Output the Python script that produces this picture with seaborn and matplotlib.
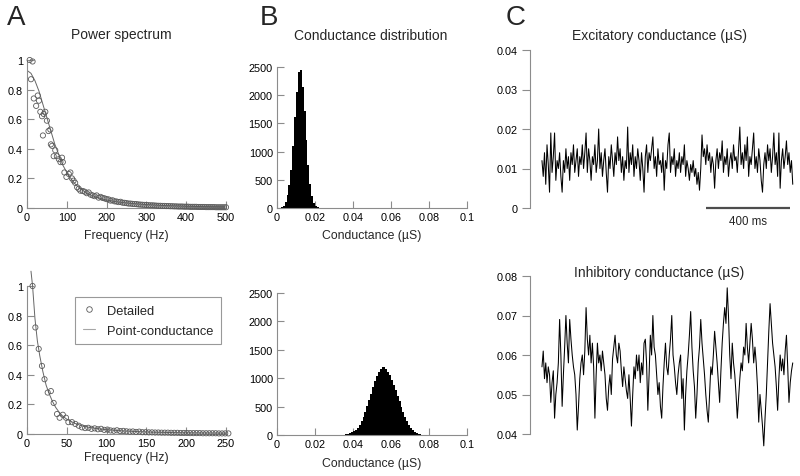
import numpy as np
import matplotlib
matplotlib.use("Agg")
import matplotlib.pyplot as plt
import seaborn as sns
from matplotlib.lines import Line2D
from matplotlib.ticker import FormatStrFormatter

# ---- data ----
# power spectrum, top (excitatory), "Detailed" model points
spec_e_freq = [6.7, 10, 14, 17, 23, 27, 30, 33.5, 37.7, 40, 42, 46, 50, 54, 58.6, 60, 63, 67,
               71, 75, 80, 84, 88, 90, 94, 99, 105, 109, 113, 117, 121, 126, 130, 134,
               140, 145, 150, 155, 160, 165, 170, 175, 180, 185, 190, 195, 200, 205, 210, 215,
               220, 225, 230, 235, 240, 245, 250, 255, 260, 265, 270, 275, 280, 285, 290, 295,
               300, 305, 310, 315, 320, 325, 330, 335, 340, 345, 350, 355, 360, 365, 370, 375,
               380, 385, 390, 395, 400, 405, 410, 415, 420, 425, 430, 435, 440, 445, 450, 455,
               460, 465, 470, 475, 480, 485, 490, 495, 500]
spec_e_pow = [1.0, 0.87, 0.99, 0.74, 0.69, 0.76, 0.725, 0.65, 0.62, 0.49, 0.635, 0.65, 0.59, 0.52,
              0.53, 0.43, 0.42, 0.35, 0.39, 0.35, 0.33, 0.31, 0.34, 0.31, 0.24, 0.21, 0.23, 0.24,
              0.2, 0.185, 0.17, 0.14, 0.13, 0.117,
              0.115, 0.11, 0.10, 0.105, 0.09, 0.085, 0.08, 0.085, 0.07, 0.075, 0.068, 0.065, 0.06,
              0.058, 0.05, 0.052, 0.045, 0.044, 0.04, 0.042, 0.036, 0.035, 0.033, 0.03, 0.03,
              0.028, 0.027, 0.026, 0.024, 0.023, 0.022, 0.021, 0.02, 0.019, 0.018, 0.018, 0.017,
              0.016, 0.015, 0.015, 0.014, 0.014, 0.013, 0.013, 0.012, 0.012, 0.011, 0.011, 0.01,
              0.01, 0.01, 0.009, 0.009, 0.009, 0.008, 0.008, 0.008, 0.008, 0.007, 0.007, 0.007,
              0.007, 0.006, 0.006, 0.006, 0.006, 0.006, 0.005, 0.005, 0.005, 0.005, 0.005, 0.005]
# "Point-conductance" curve, top
fit_e_freq = [0, 10, 20, 30, 40, 50, 60, 70, 80, 90, 100, 110, 120, 130, 140, 150, 160, 170,
              180, 190, 200, 225, 250, 275, 300, 350, 400, 450, 500]
fit_e_pow = [0.93, 0.91, 0.86, 0.79, 0.70, 0.61, 0.52, 0.43, 0.36, 0.29, 0.24, 0.20, 0.165,
             0.14, 0.12, 0.10, 0.088, 0.077, 0.068, 0.06, 0.054, 0.042, 0.034, 0.028, 0.023,
             0.016, 0.012, 0.009, 0.007]

# power spectrum, bottom (inhibitory)
spec_i_freq = [7, 10.5, 14.7, 18.8, 22, 26, 30, 33.5, 37.7, 41, 45, 49, 52, 56.5, 60.7, 65, 69, 73,
               77, 81, 85, 89, 93, 97, 101, 105, 109, 113, 117, 121, 125, 129, 133, 137, 141,
               145, 149, 153, 157, 161, 165, 169, 173, 177, 181, 185, 189, 193, 197, 201, 205,
               209, 213, 217, 221, 225, 229, 233, 237, 241, 245, 249, 253]
spec_i_pow = [1.0, 0.72, 0.575, 0.46, 0.37, 0.28, 0.29, 0.21, 0.135, 0.11, 0.13, 0.11, 0.08, 0.08,
              0.068, 0.056, 0.045, 0.04,
              0.042, 0.035, 0.038, 0.032, 0.035, 0.028, 0.03, 0.024, 0.022, 0.025, 0.02, 0.021,
              0.018, 0.016, 0.017, 0.014, 0.016, 0.012, 0.012, 0.011, 0.011, 0.01, 0.01, 0.009,
              0.009, 0.009, 0.008, 0.008, 0.008, 0.007, 0.007, 0.007, 0.006, 0.006, 0.006, 0.006,
              0.005, 0.005, 0.005, 0.005, 0.005, 0.004, 0.004, 0.004, 0.004]
fit_i_freq = [5, 7, 10, 13, 16, 20, 24, 28, 32, 36, 40, 45, 50, 60, 70, 80, 90, 100, 120, 140,
              160, 180, 200, 225, 250]
fit_i_pow = [1.10, 1.0, 0.78, 0.63, 0.53, 0.42, 0.33, 0.27, 0.22, 0.18, 0.15, 0.12, 0.10, 0.072,
             0.054, 0.043, 0.035, 0.029, 0.021, 0.016, 0.012, 0.010, 0.008, 0.007, 0.006]

# conductance histograms (bin centres in uS, counts)
hist_e_g = [0.0025, 0.0035, 0.0045, 0.0055, 0.0065, 0.0075, 0.0085, 0.0095, 0.0105, 0.0115,
            0.0125, 0.0135, 0.0145, 0.0155, 0.0165, 0.0175, 0.0185, 0.0195, 0.0205, 0.0215]
hist_e_n = [10, 40, 110, 230, 400, 680, 1100, 1620, 2050, 2420, 2440, 2150, 1720, 1200, 760,
            430, 210, 90, 35, 10]
hist_i_g = [0.0355, 0.0365, 0.0375, 0.0385, 0.0395, 0.0405, 0.0415, 0.0425, 0.0435, 0.0445,
            0.0455, 0.0465, 0.0475, 0.0485, 0.0495, 0.0505, 0.0515, 0.0525, 0.0535, 0.0545,
            0.0555, 0.0565, 0.0575, 0.0585, 0.0595, 0.0605, 0.0615, 0.0625, 0.0635, 0.0645,
            0.0655, 0.0665, 0.0675, 0.0685, 0.0695, 0.0705, 0.0715, 0.0725, 0.0735, 0.0745,
            0.0755, 0.0765, 0.0775]
hist_i_n = [5, 12, 20, 30, 45, 65, 95, 130, 175, 240, 320, 410, 510, 620, 730, 840, 950, 1040,
            1110, 1160, 1190, 1195, 1160, 1110, 1050, 970, 880, 790, 690, 590, 490, 400, 310,
            240, 180, 130, 90, 60, 40, 25, 15, 8, 4]

# conductance traces (uS), one sample every 6 ms
dt_ms = 6
g_exc = [0.012, 0.008, 0.014, 0.006, 0.016, 0.011, 0.004, 0.019, 0.009, 0.013,
         0.019, 0.007, 0.012, 0.010, 0.014, 0.008, 0.004, 0.012, 0.009, 0.015,
         0.010, 0.013, 0.007, 0.014, 0.011, 0.016, 0.009, 0.012, 0.015, 0.008,
         0.013, 0.011, 0.016, 0.010, 0.014, 0.019, 0.009, 0.015, 0.012, 0.007,
         0.013, 0.011, 0.016, 0.009, 0.012, 0.020, 0.010, 0.014, 0.008, 0.012,
         0.015, 0.009, 0.004, 0.013, 0.010, 0.016, 0.012, 0.008, 0.014, 0.011,
         0.018, 0.012, 0.015, 0.009, 0.013, 0.007, 0.012, 0.010, 0.0205, 0.009,
         0.014, 0.011, 0.016, 0.008, 0.013, 0.010, 0.015, 0.012, 0.007, 0.014,
         0.010, 0.004, 0.013, 0.016, 0.009, 0.014, 0.012, 0.015, 0.018, 0.010,
         0.013, 0.008, 0.015, 0.011, 0.012, 0.009, 0.014, 0.0045, 0.012, 0.010,
         0.016, 0.019, 0.009, 0.013, 0.011, 0.015, 0.008, 0.012, 0.010, 0.014,
         0.009, 0.013, 0.011, 0.016, 0.008, 0.012, 0.010, 0.007, 0.011, 0.009,
         0.012, 0.008, 0.010, 0.006, 0.009, 0.0045, 0.010, 0.0185, 0.013, 0.015,
         0.011, 0.016, 0.012, 0.014, 0.009, 0.013, 0.011, 0.005, 0.012, 0.015,
         0.010, 0.014, 0.012, 0.017, 0.009, 0.013, 0.011, 0.015, 0.008, 0.012,
         0.014, 0.010, 0.016, 0.012, 0.013, 0.009, 0.015, 0.0205, 0.011, 0.014,
         0.010, 0.016, 0.012, 0.018, 0.008, 0.013, 0.011, 0.015, 0.019, 0.010,
         0.013, 0.009, 0.015, 0.012, 0.007, 0.004, 0.011, 0.014, 0.010, 0.016,
         0.012, 0.015, 0.009, 0.013, 0.019, 0.011, 0.014, 0.008, 0.019, 0.005,
         0.012, 0.015, 0.010, 0.013, 0.017, 0.011, 0.014, 0.009, 0.012, 0.006]
g_inh = [0.057, 0.061, 0.054, 0.058, 0.053, 0.057, 0.055, 0.048, 0.053, 0.056,
         0.044, 0.050, 0.053, 0.058, 0.069, 0.060, 0.047, 0.055, 0.062, 0.070,
         0.063, 0.058, 0.069, 0.064, 0.060, 0.057, 0.055, 0.050, 0.041, 0.047,
         0.054, 0.058, 0.060, 0.055, 0.061, 0.072, 0.064, 0.060, 0.065, 0.058,
         0.063, 0.057, 0.044, 0.055, 0.063, 0.058, 0.060, 0.056, 0.061, 0.058,
         0.055, 0.049, 0.046, 0.052, 0.055, 0.050, 0.059, 0.062, 0.065, 0.060,
         0.058, 0.063, 0.061, 0.056, 0.052, 0.057, 0.054, 0.051, 0.049, 0.055,
         0.049, 0.042, 0.050, 0.057, 0.054, 0.060, 0.056, 0.060, 0.053, 0.058,
         0.055, 0.063, 0.064, 0.058, 0.046, 0.055, 0.065, 0.060, 0.070, 0.062,
         0.060, 0.055, 0.050, 0.053, 0.047, 0.044, 0.052, 0.058, 0.063, 0.057,
         0.055, 0.060, 0.064, 0.070, 0.060, 0.057, 0.053, 0.050, 0.055, 0.058,
         0.060, 0.049, 0.054, 0.041, 0.050, 0.056, 0.060, 0.065, 0.071, 0.062,
         0.056, 0.052, 0.044, 0.050, 0.058, 0.062, 0.069, 0.063, 0.059, 0.055,
         0.050, 0.046, 0.043, 0.050, 0.057, 0.055, 0.060, 0.066, 0.062, 0.058,
         0.053, 0.048, 0.056, 0.063, 0.068, 0.072, 0.068, 0.077, 0.070, 0.060,
         0.054, 0.063, 0.058, 0.055, 0.050, 0.044, 0.049, 0.054, 0.058, 0.056,
         0.062, 0.060, 0.068, 0.062, 0.058, 0.063, 0.068, 0.064, 0.058, 0.062,
         0.058, 0.052, 0.043, 0.050, 0.046, 0.042, 0.037, 0.044, 0.050, 0.058,
         0.066, 0.073, 0.068, 0.063, 0.060, 0.057, 0.052, 0.046, 0.054, 0.060,
         0.056, 0.059, 0.055, 0.061, 0.065, 0.057, 0.048, 0.053, 0.056, 0.058]

# ---- figure ----
sns.set_theme(style="white")
plt.rcParams["font.family"] = ["Liberation Sans", "DejaVu Sans"]

W, H = 800, 477
fig = plt.figure(figsize=(W / 100, H / 100), dpi=100)


def add_ax(left, top, right, bottom):
    # pixel box -> figure fraction
    return fig.add_axes([left / W, 1 - bottom / H, (right - left) / W, (bottom - top) / H])


def style_ab(ax):
    sns.despine(ax=ax)
    for s in ["left", "bottom"]:
        ax.spines[s].set_color("0.55")
        ax.spines[s].set_linewidth(0.8)
    ax.tick_params(bottom=True, left=True, direction="in", length=5, width=0.8, color="0.55",
                   labelsize=7.8, pad=3, labelcolor="black")
    ax.xaxis.set_major_formatter(FormatStrFormatter("%g"))
    ax.yaxis.set_major_formatter(FormatStrFormatter("%g"))


def style_c(ax):
    sns.despine(ax=ax, bottom=True)
    ax.spines["left"].set_color("0.55")
    ax.spines["left"].set_linewidth(0.8)
    ax.set_xticks([])
    ax.tick_params(axis="y", left=True, direction="out", length=6, width=0.8, color="0.55",
                   labelsize=7.8, pad=3, labelcolor="black")
    ax.yaxis.set_major_formatter(FormatStrFormatter("%g"))


circ_kw = dict(marker="o", s=14, facecolor="none", edgecolor="0.35", linewidth=0.6,
               clip_on=False, zorder=3)

# A top
ax = add_ax(27, 61, 226, 209)
sns.lineplot(x=fit_e_freq, y=fit_e_pow, ax=ax, color="0.4", lw=0.7)
sns.scatterplot(x=spec_e_freq, y=spec_e_pow, ax=ax, **circ_kw)
ax.set_xlim(0, 500)
ax.set_ylim(0, 1)
ax.set_xticks([0, 100, 200, 300, 400, 500])
ax.set_yticks([0, 0.2, 0.4, 0.6, 0.8, 1])
style_ab(ax)
ax.set_xlabel("Frequency (Hz)", fontsize=8.8, labelpad=5)
ax.set_ylabel("")

# A bottom
ax = add_ax(27, 287, 226, 435)
sns.lineplot(x=fit_i_freq, y=fit_i_pow, ax=ax, color="0.4", lw=0.7)
for ln in ax.lines:
    ln.set_clip_on(False)
sns.scatterplot(x=spec_i_freq, y=spec_i_pow, ax=ax, **circ_kw)
ax.set_xlim(0, 250)
ax.set_ylim(0, 1)
ax.set_xticks([0, 50, 100, 150, 200, 250])
ax.set_yticks([0, 0.2, 0.4, 0.6, 0.8, 1])
style_ab(ax)
ax.set_xlabel("Frequency (Hz)", fontsize=8.8, labelpad=2)
ax.set_ylabel("")
handles = [Line2D([], [], marker="o", ls="none", mfc="none", mec="0.35", ms=4, mew=0.6),
           Line2D([], [], color="0.65", lw=0.8)]
leg = ax.legend(handles, ["Detailed", "Point-conductance"], loc="upper left",
                bbox_to_anchor=(0.24, 0.925), fontsize=9.3, frameon=True, fancybox=False,
                handlelength=1.0, handletextpad=0.9, labelspacing=0.6, borderpad=0.6,
                borderaxespad=0)
leg.get_frame().set_edgecolor("0.5")
leg.get_frame().set_linewidth(0.8)

# B top / bottom
for top, bottom, g, n, rng, pad in [(68, 209, hist_e_g, hist_e_n, (0.002, 0.022), 5),
                                    (294, 436, hist_i_g, hist_i_n, (0.035, 0.078), 6)]:
    ax = add_ax(277, top, 467, bottom)
    sns.histplot(x=g, weights=n, binwidth=0.001, binrange=rng, element="step", fill=True,
                 color="black", alpha=1, linewidth=0, ax=ax)
    ax.set_xlim(0, 0.1)
    ax.set_ylim(0, 2500)
    ax.set_xticks([0, 0.02, 0.04, 0.06, 0.08, 0.1])
    ax.set_yticks([0, 500, 1000, 1500, 2000, 2500])
    style_ab(ax)
    ax.set_xlabel("Conductance (\u00b5S)", fontsize=8.8, labelpad=pad)
    ax.set_ylabel("")

# C top
t_exc = np.arange(len(g_exc)) * dt_ms
ax = add_ax(530, 51, 798, 209)
sns.lineplot(x=t_exc, y=g_exc, ax=ax, color="black", lw=0.75)
ax.set_xlim(-57, 1219)
ax.set_ylim(0, 0.04)
ax.set_yticks([0, 0.01, 0.02, 0.03, 0.04])
style_c(ax)
ax.set_xlabel("")
ax.set_ylabel("")
ax.plot([781, 1181], [0, 0], color="0.3", lw=1.6, clip_on=False, solid_capstyle="butt")
ax.text(981, -0.0034, "400 ms", ha="center", va="center", fontsize=8.3)

# C bottom
t_inh = np.arange(len(g_inh)) * dt_ms
ax = add_ax(530, 277, 798, 435)
sns.lineplot(x=t_inh, y=g_inh, ax=ax, color="black", lw=0.75)
for ln in ax.lines:
    ln.set_clip_on(False)
ax.set_xlim(-57, 1219)
ax.set_ylim(0.04, 0.08)
ax.set_yticks([0.04, 0.05, 0.06, 0.07, 0.08])
style_c(ax)
ax.set_xlabel("")
ax.set_ylabel("")

# titles and panel letters
fig.text(121 / W, 1 - 35 / H, "Power spectrum", ha="center", va="center", fontsize=10)
fig.text(371 / W, 1 - 36 / H, "Conductance distribution", ha="center", va="center", fontsize=10)
fig.text(660 / W, 1 - 36 / H, "Excitatory conductance (\u00b5S)", ha="center", va="center",
         fontsize=10)
fig.text(659 / W, 1 - 273 / H, "Inhibitory conductance (\u00b5S)", ha="center", va="center",
         fontsize=10)
for letter, x in [("A", 16), ("B", 269), ("C", 516)]:
    fig.text(x / W, 1 - 18 / H, letter, ha="center", va="center", fontsize=20)

fig.savefig("out.png", dpi=100)
